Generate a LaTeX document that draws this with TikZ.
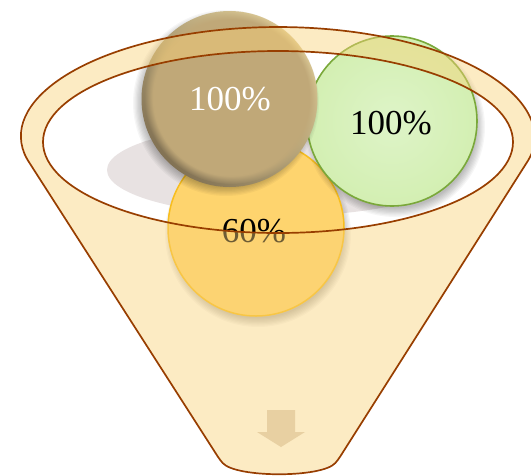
\documentclass[tikz,border=0pt]{standalone}
\usepackage{fontspec}
\setmainfont{Liberation Serif}
\usetikzlibrary{fadings}
\definecolor{funnelc}{RGB}{250,210,120}
\definecolor{rimline}{RGB}{152,62,0}
\definecolor{greyc}{RGB}{232,226,226}
\definecolor{tanc}{RGB}{192,168,120}
\definecolor{tandark}{RGB}{130,114,84}
\definecolor{tanlight}{RGB}{222,204,152}
\definecolor{greenf}{RGB}{211,239,178}
\definecolor{greenin}{RGB}{222,244,200}
\definecolor{greenl}{RGB}{122,168,58}
\definecolor{yellowf}{RGB}{254,212,110}
\definecolor{yellowl}{RGB}{248,190,30}
\definecolor{arrowc}{RGB}{232,208,162}
\newcommand\mysoftshadow[3]{%
  \foreach \k in {0,...,7}{\pgfmathsetlengthmacro\myrad{(#3+5-1.25*\k)*1pt}%
    \fill[black,opacity=0.035] (#1,#2) circle (\myrad);}}
\tikzset{
  rimstroke/.style={draw=rimline, line width=1.7pt, line join=round},
  pct/.style={font=\fontsize{35}{40}\selectfont, inner sep=0pt, anchor=base}
}
\begin{document}
\begin{tikzpicture}[x=1pt,y=-1pt]
\useasboundingbox (0,0) rectangle (531,475);
\clip (0,0) rectangle (531,475);
\fill[white] (0,0) rectangle (531,475);
% grey back shadow
\fill[greyc] (282,170) ellipse[x radius=175pt, y radius=46pt];
% yellow circle
\mysoftshadow{258}{234}{88}
\fill[yellowf] (256,228) circle (88pt);
\draw[yellowl, line width=1.5pt] (256,228) circle (88pt);
% green circle
\mysoftshadow{395}{127}{85}
\shade[inner color=greenin, outer color=greenf] (392,121) circle (85pt);
\draw[greenl, line width=1.6pt] (392,121) circle (85pt);
% brown circle
\mysoftshadow{226}{103}{88}
\shade[top color=tanlight, bottom color=tandark, shading angle=-45] (229.5,99) circle (88pt);
\fill[tanc, path fading=circle with fuzzy edge 10 percent] (231,97.5) circle (86.5pt);
% texts
\node[pct, text=white] (tA) at (230,110) {100\%};
\node[pct, text=black] (tB) at (391,134) {100\%};
\node[pct, text=black] (tC) at (254,242) {60\%};
% funnel overlay
\fill[funnelc, opacity=0.44, even odd rule]
  (25.9,157.3) arc[start angle=190, end angle=-10, x radius=256pt, y radius=111pt]
  -- (338,460) .. controls (322,478) and (236,478) .. (220,460) -- cycle
  (278,142) ellipse[x radius=235pt, y radius=91pt];
\draw[rimstroke, rounded corners=4pt]
  (25.9,157.3) arc[start angle=190, end angle=-10, x radius=256pt, y radius=111pt]
  -- (338,460) .. controls (322,478) and (236,478) .. (220,460) -- cycle;
\draw[rimstroke] (278,142) ellipse[x radius=235pt, y radius=91pt];
% down arrow
\fill[arrowc] (267,410) -- (295,410) -- (295,432) -- (305,432) -- (281,447)
  -- (257,432) -- (267,432) -- cycle;
\end{tikzpicture}
\end{document}
